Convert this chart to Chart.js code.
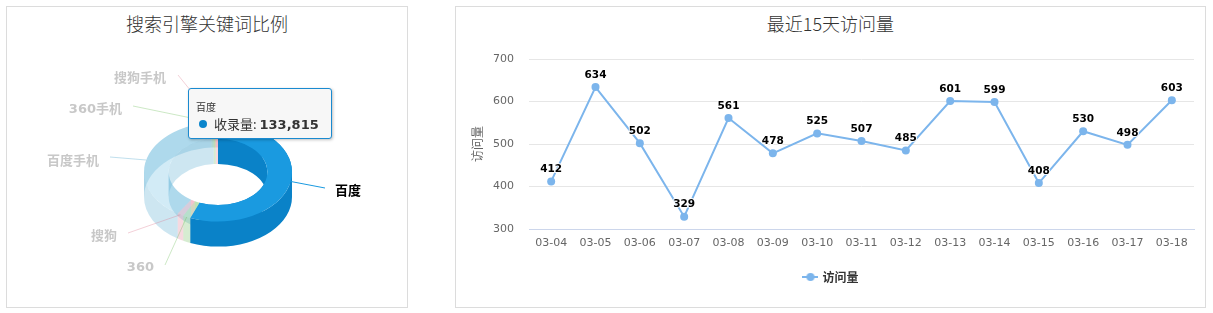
<!DOCTYPE html>
<html><head><meta charset="utf-8">
<script src="https://cdn.jsdelivr.net/npm/chart.js@4.4.1/dist/chart.umd.min.js"></script>
<style>
body{margin:0;background:#fff;width:1213px;height:313px;overflow:hidden;position:relative;font-family:"Noto Sans CJK SC",sans-serif}
.panel{position:absolute;border:1px solid #dcdcdc;box-sizing:border-box}
.title{position:absolute;font-size:18px;line-height:24px;color:#333;text-align:center;font-family:"Noto Sans CJK SC";font-weight:300}
canvas{position:absolute}
.tip{position:absolute;box-sizing:border-box;border:1px solid #1a8ad0;border-radius:3px;background:#f7f7f7;box-shadow:1px 1px 3px rgba(0,0,0,0.25);color:#333}
</style></head><body>
<div class="panel" style="left:6px;top:6px;width:402px;height:302px"></div>
<div class="panel" style="left:455px;top:6px;width:751px;height:302px"></div>
<div class="title" style="left:6px;width:402px;top:11px">搜索引擎关键词比例</div>
<div class="title" style="left:455px;width:751px;top:11px">最近15天访问量</div>
<canvas id="pie" width="410" height="313" style="left:0;top:0"></canvas>
<canvas id="line" width="750" height="301" style="left:455px;top:6px"></canvas>
<div class="tip" id="tip" style="left:188px;top:88px;width:144px;height:51px">
  <div id="tipTitle" style="position:absolute;left:7px;top:12px;font-size:10px;line-height:12px"></div>
  <div style="position:absolute;left:10px;top:31px;width:8px;height:8px;border-radius:50%;background:#0a85cc"></div>
  <div id="tipBody" style="position:absolute;left:25px;top:26px;font-size:13px;line-height:18px;white-space:nowrap"></div>
</div>
<script>
// ---- data ----
const pieLabels = ['百度','360','搜狗','百度手机','360手机','搜狗手机'];
const pieValues = [133815, 3980, 3310, 94070, 1660, 1650];
const seriesName = '收录量';
const days = ['03-04','03-05','03-06','03-07','03-08','03-09','03-10','03-11','03-12','03-13','03-14','03-15','03-16','03-17','03-18'];
const visits = [412,634,502,329,561,478,525,507,485,601,599,408,530,498,603];
const yTicks = [300,400,500,600,700];
const lineSeriesName = '访问量';

// ---- styles / layout ----
const activeIndex = 0;
const pieColors = ['#1a9ae0','#7fce6a','#f08aa0','#5cb6de','#7fce6a','#f08aa0'];
const pieSideColors = ['#0a82c8','#6cbc58','#de7890','#4aa4cc','#6cbc58','#de7890'];
const fadeAlpha = 0.28;
const pieLabelPos = [
  {tx:335, ty:192, ex:325, ey:188, align:'left'},
  {tx:154, ty:268, ex:165, ey:265, align:'right'},
  {tx:117, ty:237, ex:128, ey:233, align:'right'},
  {tx:99,  ty:162, ex:110, ey:157, align:'right'},
  {tx:122, ty:110, ex:133, ey:106, align:'right'},
  {tx:166, ty:79,  ex:178, ey:75,  align:'right'}
];

function rgba(hex, a){
  const n = parseInt(hex.slice(1),16);
  return 'rgba('+((n>>16)&255)+','+((n>>8)&255)+','+(n&255)+','+a+')';
}

// tooltip text
document.getElementById('tipTitle').textContent = pieLabels[activeIndex];
document.getElementById('tipBody').innerHTML = seriesName + ': <b style="font-family:\'DejaVu Sans\';font-size:13px">' + pieValues[activeIndex].toLocaleString('en-US') + '</b>';

// ---- 3D doughnut plugin ----
const K = 0.67, DEPTH = 25;
function clipRange(s,e,lo,hi){ const a=Math.max(s,lo), b=Math.min(e,hi); return a<b?[a,b]:null; }
function wallPath(ctx,cx,cy,rad,a0,a1){
  ctx.beginPath();
  ctx.ellipse(cx,cy,rad,rad*K,0,a0,a1,false);
  ctx.ellipse(cx,cy+DEPTH,rad,rad*K,0,a1,a0,true);
  ctx.closePath();
}
function topFacePath(ctx,cx,cy,R,r,a0,a1){
  ctx.beginPath();
  ctx.ellipse(cx,cy,R,R*K,0,a0,a1,false);
  ctx.ellipse(cx,cy,r,r*K,0,a1,a0,true);
  ctx.closePath();
}
const pie3d = {
  id:'pie3d',
  beforeDatasetsDraw(chart){
    const ctx = chart.ctx;
    const arcs = chart.getDatasetMeta(0).data;
    const PI = Math.PI;
    const fillFor = (i, side) => {
      const c = side ? pieSideColors[i] : pieColors[i];
      return i===activeIndex ? c : rgba(c, fadeAlpha);
    };
    const backRanges = [[-PI/2,0],[PI,1.5*PI]], frontRanges=[[0,PI]];
    const passes = [
      {rad:'outerRadius', ranges:backRanges},
      {rad:'innerRadius', ranges:backRanges},
      {rad:'innerRadius', ranges:frontRanges},
      {rad:'outerRadius', ranges:frontRanges}
    ];
    ctx.save();
    passes.forEach(p=>{
      arcs.forEach((a,i)=>{
        p.ranges.forEach(rg=>{
          const c = clipRange(a.startAngle,a.endAngle,rg[0],rg[1]);
          if(!c) return;
          wallPath(ctx,a.x,a.y,a[p.rad],c[0],c[1]);
          ctx.fillStyle = fillFor(i,true);
          ctx.fill();
        });
      });
    });
    arcs.forEach((a,i)=>{
      topFacePath(ctx,a.x,a.y,a.outerRadius,a.innerRadius,a.startAngle,a.endAngle);
      ctx.fillStyle = fillFor(i,false);
      ctx.fill();
    });
    ctx.restore();
    return false;
  },
  afterDraw(chart){
    const ctx = chart.ctx;
    const arcs = chart.getDatasetMeta(0).data;
    ctx.save();
    arcs.forEach((a,i)=>{
      const m = (a.startAngle+a.endAngle)/2;
      const sx = a.x + a.outerRadius*Math.cos(m);
      const sy = a.y + a.outerRadius*K*Math.sin(m);
      const L = pieLabelPos[i];
      ctx.beginPath();
      ctx.moveTo(L.ex,L.ey);
      ctx.lineTo(sx,sy);
      ctx.lineWidth = 1;
      ctx.strokeStyle = i===activeIndex ? pieColors[i] : rgba(pieSideColors[i], 0.35);
      ctx.stroke();
      ctx.font = 'bold 13px "DejaVu Sans", "Noto Sans CJK SC"';
      ctx.textAlign = L.align;
      ctx.textBaseline = 'middle';
      ctx.fillStyle = i===activeIndex ? '#000' : '#c8c8c8';
      ctx.fillText(pieLabels[i], L.tx, L.ty);
    });
    ctx.restore();
  }
};

new Chart(document.getElementById('pie'), {
  type:'doughnut',
  data:{labels:pieLabels, datasets:[{data:pieValues, backgroundColor:pieColors, borderWidth:0}]},
  options:{
    responsive:false, animation:false, devicePixelRatio:1, events:[],
    cutout:'66.7%',
    layout:{padding:{left:144,right:118,top:98,bottom:67}},
    plugins:{legend:{display:false}, tooltip:{enabled:false}}
  },
  plugins:[pie3d]
});

// ---- line chart ----
const icon = document.createElement('canvas');
icon.width = 16; icon.height = 10;
(function(){
  const c = icon.getContext('2d');
  c.strokeStyle = '#7cb5ec'; c.lineWidth = 2;
  c.beginPath(); c.moveTo(0,5); c.lineTo(16,5); c.stroke();
  c.fillStyle = '#7cb5ec'; c.beginPath(); c.arc(8,5,4,0,Math.PI*2); c.fill();
})();

const dataLabels = {
  id:'dataLabels',
  afterDatasetsDraw(chart){
    const ctx = chart.ctx;
    const pts = chart.getDatasetMeta(0).data;
    ctx.save();
    ctx.font = 'bold 10.5px "DejaVu Sans"';
    ctx.textAlign = 'center';
    ctx.textBaseline = 'middle';
    ctx.lineJoin = 'round';
    pts.forEach((p,i)=>{
      const t = String(visits[i]);
      ctx.strokeStyle = 'rgba(255,255,255,0.9)';
      ctx.lineWidth = 2;
      ctx.strokeText(t, p.x, p.y-12);
      ctx.fillStyle = '#000';
      ctx.fillText(t, p.x, p.y-12);
    });
    ctx.restore();
  }
};

new Chart(document.getElementById('line'), {
  type:'line',
  data:{labels:days, datasets:[{label:lineSeriesName, data:visits, borderColor:'#7cb5ec', backgroundColor:'#7cb5ec',
    pointBackgroundColor:'#7cb5ec', pointBorderColor:'#7cb5ec', pointRadius:4, pointBorderWidth:0, borderWidth:2, tension:0}]},
  options:{
    responsive:false, animation:false, devicePixelRatio:1, events:[],
    layout:{padding:{left:14,right:11,top:53,bottom:14}},
    plugins:{
      tooltip:{enabled:false},
      legend:{display:true, position:'bottom',
        labels:{usePointStyle:true, pointStyle:icon, pointStyleWidth:12, padding:10, color:'#333',
          font:{size:12, weight:'bold', family:'"Noto Sans CJK SC"'}}}
    },
    scales:{
      x:{offset:true, grid:{display:false, drawTicks:false}, border:{color:'#ccd6eb'},
        ticks:{color:'#666', font:{size:11, family:'"DejaVu Sans"'}, padding:8, maxRotation:0, autoSkip:false},
        afterFit(s){ s.height = 32; }},
      y:{min:300, max:700,
        afterBuildTicks(s){ s.ticks = yTicks.map(v=>({value:v})); },
        ticks:{color:'#666', font:{size:11, family:'"DejaVu Sans"'}, padding:15},
        grid:{color:'#e6e6e6', drawTicks:false}, border:{display:false},
        title:{display:true, text:lineSeriesName, color:'#666', font:{size:12, family:'"Noto Sans CJK SC"'}, padding:{top:1,bottom:0}},
        afterFit(s){ s.width = 60; }}
    }
  },
  plugins:[dataLabels]
});
</script>
</body></html>
